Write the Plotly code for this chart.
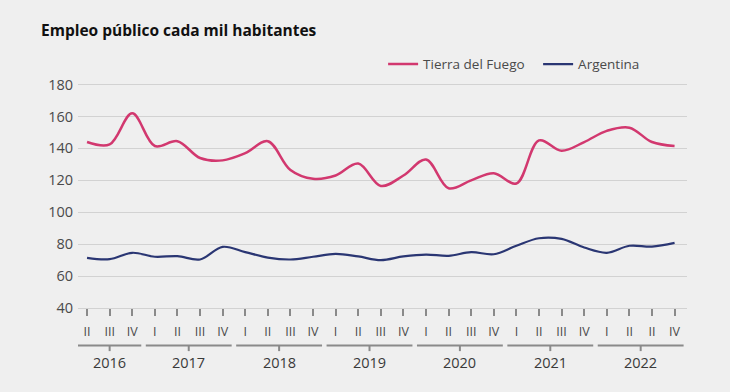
import plotly.graph_objects as go

quarters = ["II", "III", "IV",
            "I", "II", "III", "IV",
            "I", "II", "III", "IV",
            "I", "II", "III", "IV",
            "I", "II", "III", "IV",
            "I", "II", "III", "IV",
            "I", "II", "II", "IV"]
years = ["2016"] * 3 + ["2017"] * 4 + ["2018"] * 4 + ["2019"] * 4 + ["2020"] * 4 + ["2021"] * 4 + ["2022"] * 4

tierra_del_fuego = [144, 142.5, 162, 141.5, 144.5, 134, 132.5, 137, 144.5, 126.5, 121, 123, 130.5, 116.5,
                    123, 133, 115, 120, 124.5, 118, 145, 138.5, 144, 151, 153, 144, 141.5]
argentina = [71.4, 70.6, 74.6, 72.1, 72.5, 70.4, 78.3, 75, 71.6, 70.4, 72.1, 73.9, 72.3, 70,
             72.3, 73.5, 72.7, 75, 73.7, 79, 83.7, 83.3, 77.9, 74.6, 79, 78.5, 80.8]

x_idx = list(range(len(quarters)))

PINK = "#d2386f"
NAVY = "#2a3673"
BG = "#efefef"
GRID = "#d2d2d2"
TXT = "#4a4a4a"
FONT = "Open Sans"

fig = go.Figure()
fig.add_trace(go.Scatter(x=x_idx, y=tierra_del_fuego, name="Tierra del Fuego", mode="lines",
                         line=dict(color=PINK, width=2.5, shape="spline", smoothing=1)))
fig.add_trace(go.Scatter(x=x_idx, y=argentina, name="Argentina", mode="lines",
                         line=dict(color=NAVY, width=2.2, shape="spline", smoothing=1)))

# year groups
shapes = []
annotations = []
year_order = []
for y in years:
    if y not in year_order:
        year_order.append(y)
for yr in year_order:
    idxs = [i for i, v in enumerate(years) if v == yr]
    x0, x1 = idxs[0] - 0.4, idxs[-1] + 0.4
    xc = (idxs[0] + idxs[-1]) / 2
    shapes.append(dict(type="line", xref="x", yref="paper", x0=x0, x1=x1, y0=-0.161, y1=-0.161,
                       line=dict(color="#8a8a8a", width=2)))
    shapes.append(dict(type="line", xref="x", yref="paper", x0=xc, x1=xc, y0=-0.161, y1=-0.185,
                       line=dict(color="#8a8a8a", width=2)))
    annotations.append(dict(text=yr, xref="x", yref="paper", x=xc, y=-0.235, showarrow=False,
                            xanchor="center", yanchor="middle", font=dict(size=14.5, color="#3a3a3a", family=FONT)))

fig.update_layout(
    width=730, height=392,
    paper_bgcolor=BG, plot_bgcolor=BG,
    margin=dict(l=78, r=43, t=75, b=84),
    font=dict(family=FONT, color=TXT),
    title=dict(text="<b>Empleo público cada mil habitantes</b>", xref="container", yref="container",
               x=41 / 730, y=1 - 31 / 392, xanchor="left", yanchor="middle",
               font=dict(size=15.5, color="#111111", family=FONT)),
    showlegend=True,
    legend=dict(orientation="h", x=0.501, xanchor="left", y=1.046, yanchor="middle",
                bgcolor="rgba(0,0,0,0)", font=dict(size=13.5, color=TXT, family=FONT),
                itemwidth=30, entrywidth=110),
    shapes=shapes,
    annotations=annotations,
    hovermode=False,
)
fig.update_xaxes(range=[-0.4, 26.55], tickmode="array", tickvals=x_idx, ticktext=quarters,
                 showgrid=False, zeroline=False, showline=True, linecolor=GRID, linewidth=1,
                 ticks="outside", ticklen=7, tickwidth=2, tickcolor="#8a8a8a",
                 ticklabelstandoff=5,
                 tickfont=dict(size=12.5, color=TXT, family=FONT))
fig.update_yaxes(range=[40, 186], tickmode="array", tickvals=[40, 60, 80, 100, 120, 140, 160, 180],
                 showgrid=True, gridcolor=GRID, gridwidth=1, zeroline=False, showline=False,
                 ticks="", tickfont=dict(size=14.5, color=TXT, family=FONT), ticklabelstandoff=4)

fig.write_html("out.html", config={"displayModeBar": False},
               post_script="document.body.style.margin='0';document.body.style.padding='0';")
